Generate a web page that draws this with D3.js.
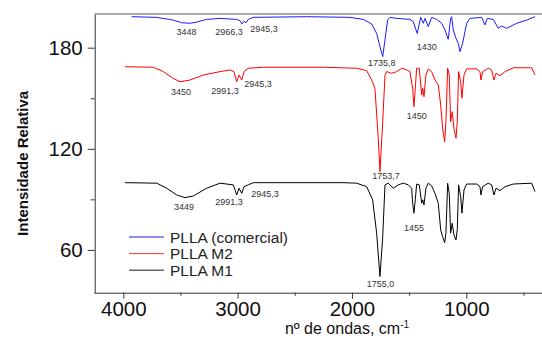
<!DOCTYPE html>
<html>
<head>
<meta charset="utf-8">
<script src="https://cdn.jsdelivr.net/npm/d3@7"></script>
<style>
  body { margin: 0; background: #fff; }
  svg { display: block; font-family: "Liberation Sans", Arial, sans-serif; }
  .peak { font-size: 9px; fill: #333; text-anchor: middle; }
</style>
</head>
<body>
<div class="svg-container"></div>
<script>
// spectra: [wavenumber (cm-1), relative intensity]
const comercial = [
  [3927,198.4],[3708,198.0],[3563,196.4],[3489,194.8],[3417,194.5],[3358,195.2],[3271,196.8],
  [3154,197.4],[3008,196.8],[2979,196.0],[2962,194.1],[2944,195.7],[2927,194.8],[2907,196.8],
  [2863,198.0],[2396,198.4],[2017,198.0],[1901,196.8],[1828,194.1],[1784,188.5],[1755,180.6],
  [1731,174.7],[1711,184.6],[1688,196.4],[1667,198.0],[1609,197.4],[1493,196.8],[1464,195.4],
  [1429,188.5],[1399,198.0],[1376,194.5],[1361,197.4],[1332,192.5],[1303,198.0],[1259,196.8],
  [1215,194.5],[1186,190.5],[1158,185.0],[1137,197.4],[1128,198.4],[1114,190.5],[1090,185.6],
  [1070,182.6],[1055,177.6],[1032,182.6],[997,194.5],[968,197.4],[865,198.0],[837,193.5],
  [816,197.4],[764,196.8],[720,191.5],[690,192.9],[647,191.5],[559,194.5],[472,196.4],[399,198.4]
];
const m2 = [
  [3985,168.7],[3738,168.4],[3650,165.8],[3563,161.8],[3504,159.8],[3417,160.8],[3300,163.8],
  [3154,165.8],[3067,166.8],[3032,165.8],[3008,159.8],[2988,163.8],[2964,160.8],[2944,165.8],
  [2907,167.8],[2776,168.4],[2251,168.4],[1959,167.8],[1871,166.4],[1828,160.8],[1799,155.9],
  [1770,126.4],[1755,106.4],[1731,136.1],[1711,163.8],[1696,165.8],[1653,164.8],[1609,165.8],
  [1565,167.8],[1521,166.8],[1493,165.8],[1469,155.9],[1458,145.0],[1446,155.9],[1434,167.8],
  [1411,167.8],[1390,151.9],[1381,155.9],[1370,150.9],[1353,163.8],[1332,167.4],[1303,165.8],
  [1274,160.8],[1245,157.9],[1224,146.0],[1207,132.2],[1189,124.2],[1178,136.1],[1163,167.8],
  [1149,163.8],[1137,136.1],[1123,142.0],[1108,132.2],[1090,126.3],[1079,136.1],[1067,165.8],
  [1049,159.8],[1038,150.0],[1020,163.8],[997,167.4],[909,167.4],[880,165.8],[872,160.8],
  [857,165.8],[808,167.8],[778,166.8],[758,160.8],[740,164.8],[705,163.4],[662,165.8],
  [589,168.1],[428,168.1],[399,163.8]
];
const m1 = [
  [3985,99.9],[3708,99.6],[3620,96.6],[3533,92.6],[3460,91.0],[3388,92.0],[3271,96.6],
  [3154,99.6],[3038,98.6],[3008,92.6],[2988,96.6],[2964,93.6],[2944,97.5],[2907,98.6],
  [2863,99.9],[2076,99.9],[1959,99.6],[1871,97.5],[1819,89.7],[1784,69.9],[1755,44.2],
  [1731,67.9],[1711,98.6],[1682,99.6],[1639,96.6],[1595,98.6],[1551,99.6],[1507,98.6],
  [1478,96.6],[1469,87.7],[1458,81.8],[1446,89.7],[1434,99.1],[1411,98.6],[1390,87.7],
  [1381,89.7],[1370,86.7],[1353,96.6],[1332,99.6],[1303,98.0],[1274,93.6],[1245,87.7],
  [1224,71.9],[1207,67.9],[1189,64.3],[1178,69.9],[1163,99.6],[1149,93.6],[1137,69.9],
  [1123,75.8],[1108,68.9],[1090,65.9],[1079,71.9],[1067,98.6],[1049,91.6],[1038,81.8],
  [1020,95.6],[997,99.1],[909,99.1],[880,97.5],[872,92.6],[857,97.5],[808,99.6],[778,98.6],
  [758,92.6],[740,96.6],[705,95.2],[662,97.5],[589,99.1],[428,99.6],[399,94.6]
];

// peak annotations: [text, wavenumber, intensity] of the label anchor
const comercialPeaks = [["3448",3446,187.5],["2966,3",3076,187.5],["2945,3",2769,189.3],["1430",1346,178.9],["1735,8",1740,169.4]];
const m2Peaks = [["3450",3495,151.9],["2991,3",3111,152.8],["2945,3",2822,156.7],["1450",1434,137.4],["1753,7",1702,101.8]];
const m1Peaks = [["3449",3469,83.7],["2991,3",3076,86.7],["2945,3",2761,91.4],["1455",1458,71.3],["1755,0",1751,37.8]];

const seriesNames = ["PLLA (comercial)", "PLLA M2", "PLLA M1"];
const xTicks = [4000, 3000, 2000, 1000];
const xMinor = [3500, 2500, 1500, 500];
const yTicks = [60, 120, 180];
const yMinor = [90, 150];

const W = 542, H = 338;
const margin = {left: 94.7, top: 14, bottom: 292.7};

const svg = d3.select(".svg-container").append("svg")
  .attr("width", W).attr("height", H);

const x = d3.scaleLinear().domain([4250, 350]).range([margin.left, 540.6]);
const y = d3.scaleLinear().domain([34.6, 200]).range([margin.bottom, margin.top]);

// frame (right side runs off the picture)
svg.append("line")
  .attr("x1", margin.left).attr("x2", W + 5)
  .attr("y1", margin.top).attr("y2", margin.top)
  .style("stroke", "#555").style("stroke-width", 1);

function createAxisX() {
  const g = svg.append("g").attr("transform", `translate(0,${margin.bottom})`);
  g.call(d3.axisBottom(x).tickValues(xTicks).tickFormat(d3.format("d"))
    .tickSize(6).tickSizeOuter(0).tickPadding(3));
  g.append("g").call(d3.axisBottom(x).tickValues(xMinor).tickSize(3).tickFormat(""))
    .select(".domain").remove();
  g.select(".domain").attr("d", `M${margin.left},0.5H${W + 5}`);
  g.selectAll("line, path").style("stroke", "#333");
  g.selectAll("text").style("font-size", "20.5px").style("fill", "#111");

  const t = svg.append("text")
    .attr("x", 347).attr("y", 334)
    .style("text-anchor", "middle").style("font-size", "16px").style("fill", "#111");
  t.append("tspan").text("nº de ondas, cm");
  t.append("tspan").attr("dy", -6).style("font-size", "10px").text("-1");
}

function createAxisY() {
  const g = svg.append("g").attr("transform", `translate(${margin.left},0)`);
  g.call(d3.axisLeft(y).tickValues(yTicks).tickSize(7).tickSizeOuter(0).tickPadding(5));
  g.append("g").call(d3.axisLeft(y).tickValues(yMinor).tickSize(4).tickFormat(""))
    .select(".domain").remove();
  g.selectAll("line, path").style("stroke", "#333");
  g.selectAll("text").style("font-size", "20.5px").style("fill", "#111");

  svg.append("text")
    .attr("transform", `translate(27.5,${(margin.top + margin.bottom) / 2 + 10}) rotate(-90)`)
    .style("text-anchor", "middle").style("font-size", "15px").style("font-weight", "bold")
    .style("fill", "#111")
    .text("Intensidade Relativa");
}

function addLineGraph(data, color) {
  svg.append("path")
    .datum(data)
    .attr("fill", "none")
    .attr("stroke", color)
    .attr("stroke-width", 1)
    .attr("d", d3.line().x(d => x(d[0])).y(d => y(d[1])));
}

function addPeaks(peaks) {
  svg.selectAll(null).data(peaks).enter().append("text")
    .attr("class", "peak")
    .attr("x", d => x(d[1])).attr("y", d => y(d[2]))
    .text(d => d[0]);
}

function createLegend(colors) {
  const lg = svg.append("g");
  seriesNames.forEach((name, i) => {
    const yy = 237 + i * 16.6;
    lg.append("line").attr("x1", 129).attr("x2", 164).attr("y1", yy).attr("y2", yy)
      .style("stroke", colors[i]).style("stroke-width", i == 2 ? 1.5 : 1);
    lg.append("text").attr("x", 170).attr("y", yy + 5.5)
      .style("font-size", "15.5px").style("fill", "#222").text(name);
  });
}

createAxisX();
createAxisY();
addLineGraph(comercial, "#1a1aff");
addLineGraph(m2, "#ff0000");
addLineGraph(m1, "#000");
addPeaks(comercialPeaks);
addPeaks(m2Peaks);
addPeaks(m1Peaks);
createLegend(["#1a1aff", "#ff3333", "#666"]);
</script>
</body>
</html>
